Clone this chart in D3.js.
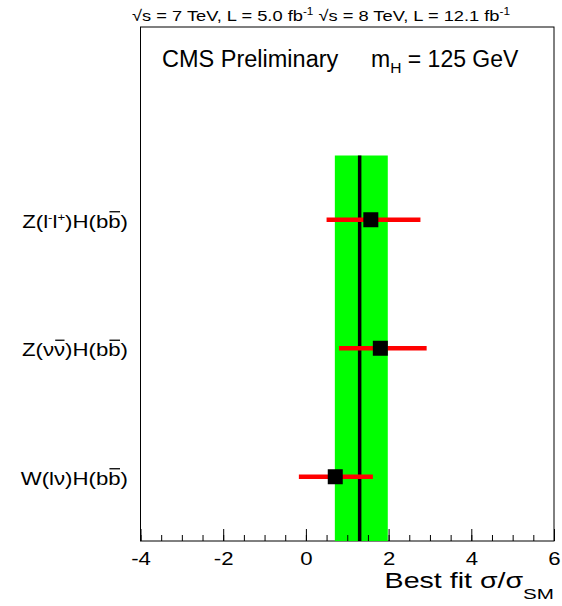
<!DOCTYPE html>
<html><head><meta charset="utf-8">
<script src="https://cdn.jsdelivr.net/npm/d3@7"></script>
<style>
html,body{margin:0;padding:0;background:#fff;}
svg{display:block;font-family:"Liberation Sans",Arial,Helvetica,sans-serif;}
</style></head>
<body>
<svg id="c" width="562" height="606"></svg>
<script>
// ---- data ----
const categories = ["W(lν)H(bb)", "Z(νν)H(bb)", "Z(l-l+)H(bb)"];
const bestFit = [0.71, 1.80, 1.57];
const errLow = [-0.17, 0.80, 0.50];
const errHigh = [1.62, 2.92, 2.77];
const combined = 1.30;
const combinedLow = 0.70;
const combinedHigh = 1.98;
const xTicks = [-4, -2, 0, 2, 4, 6];
const xDomain = [-4, 6];

// rich label segments for the categories
const labelSegments = [
  [{t:"W(lν)H(b"},{t:"b",bar:true},{t:")"}],
  [{t:"Z(ν"},{t:"ν",bar:true},{t:")H(b"},{t:"b",bar:true},{t:")"}],
  [{t:"Z(l"},{t:"-",sup:true},{t:"l"},{t:"+",sup:true},{t:")H(b"},{t:"b",bar:true},{t:")"}]
];

const svg = d3.select("#c");
const L = 140.5, R = 554, T = 27, B = 541;
const x = d3.scaleLinear().domain(xDomain).range([L, R]);
const y = d3.scaleLinear().domain([0, categories.length + 1]).range([B, T]);

// frame
svg.append("rect").attr("x", L).attr("y", T).attr("width", R - L).attr("height", B - T)
  .attr("fill", "none").attr("stroke", "#000").attr("stroke-width", 1);

// green band
svg.append("rect")
  .attr("x", x(combinedLow)).attr("width", x(combinedHigh) - x(combinedLow))
  .attr("y", y(categories.length)).attr("height", y(0) - y(categories.length))
  .attr("fill", "#00ff00");
svg.append("line")
  .attr("x1", x(combined)).attr("x2", x(combined))
  .attr("y1", y(categories.length)).attr("y2", y(0))
  .attr("stroke", "#000").attr("stroke-width", 3.5);

// error bars
svg.selectAll("line.err").data(categories).join("line").attr("class", "err")
  .attr("x1", (d, i) => x(errLow[i])).attr("x2", (d, i) => x(errHigh[i]))
  .attr("y1", (d, i) => y(i + 0.5)).attr("y2", (d, i) => y(i + 0.5))
  .attr("stroke", "#ff0000").attr("stroke-width", 4.5);

// markers
const ms = 15;
svg.selectAll("rect.pt").data(categories).join("rect").attr("class", "pt")
  .attr("x", (d, i) => x(bestFit[i]) - ms / 2).attr("y", (d, i) => y(i + 0.5) - ms / 2)
  .attr("width", ms).attr("height", ms).attr("fill", "#000");

// x axis: major and minor ticks pointing inward
const minorAxis = d3.axisBottom(x).tickValues(d3.range(xDomain[0], xDomain[1] + 0.001, 0.5))
  .tickSizeInner(-6).tickSizeOuter(0).tickFormat("");
const gMinor = svg.append("g").attr("transform", `translate(0,${B})`).call(minorAxis);
gMinor.select(".domain").remove();
const majorAxis = d3.axisBottom(x).tickValues(xTicks).tickSizeInner(-12).tickSizeOuter(0)
  .tickPadding(24).tickFormat(d => String(d));
const gMajor = svg.append("g").attr("transform", `translate(0,${B})`).call(majorAxis);
gMajor.select(".domain").remove();
gMajor.selectAll("text").attr("font-size", 18.5).attr("fill", "#000")
  .attr("font-family", '"Liberation Sans",Arial,sans-serif').attr("dy", 0)
  .attr("transform", "scale(1.2,1)");
svg.selectAll(".tick line").attr("stroke", "#000");

// axis title
const xtg = svg.append("g").attr("transform", `translate(${R},588) scale(1.33,1)`);
const xt = xtg.append("text").attr("x", 0).attr("y", 0).attr("text-anchor", "end")
  .attr("font-size", 21.5).attr("fill", "#000");
xt.append("tspan").text("Best fit σ/σ");
xt.append("tspan").attr("font-size", 15.5).attr("dy", 11).text("SM");

// category labels
labelSegments.forEach((segs, i) => {
  const g = svg.append("g").attr("transform", `translate(128,${y(i + 0.5) + 8}) scale(1.2,1)`);
  const t = g.append("text").attr("x", 0).attr("y", 0)
    .attr("text-anchor", "end").attr("font-size", 18.5).attr("fill", "#000");
  segs.forEach(s => {
    const ts = t.append("tspan").text(s.t);
    if (s.sup) ts.attr("font-size", 11).attr("baseline-shift", "60%");
  });
  // overbars
  let idx = 0;
  const node = t.node();
  segs.forEach(s => {
    if (s.bar) {
      const e = node.getExtentOfChar(idx);
      g.append("line").attr("x1", e.x + 1).attr("x2", e.x + e.width - 0.5)
        .attr("y1", -16).attr("y2", -16)
        .attr("stroke", "#000").attr("stroke-width", 1.3);
    }
    idx += s.t.length;
  });
});

// header
const hg = svg.append("g").attr("transform", "translate(132,21) scale(1.18,1)");
const h = hg.append("text").attr("x", 0).attr("y", 0).attr("font-size", 15.5).attr("fill", "#000");
h.append("tspan").text("√s = 7 TeV, L = 5.0 fb");
h.append("tspan").attr("font-size", 10).attr("baseline-shift", "60%").text("-1");
h.append("tspan").text(" √s = 8 TeV, L = 12.1 fb");
h.append("tspan").attr("font-size", 10).attr("baseline-shift", "60%").text("-1");

// CMS label
svg.append("text").attr("x", 162).attr("y", 67).attr("font-size", 23.5).attr("fill", "#000")
  .text("CMS Preliminary");
const mh = svg.append("text").attr("x", 371).attr("y", 67).attr("font-size", 23).attr("fill", "#000");
mh.append("tspan").text("m");
mh.append("tspan").attr("font-size", 15.5).attr("dy", 6).text("H");
mh.append("tspan").attr("dy", -6).text(" = 125 GeV");
</script>
</body></html>
